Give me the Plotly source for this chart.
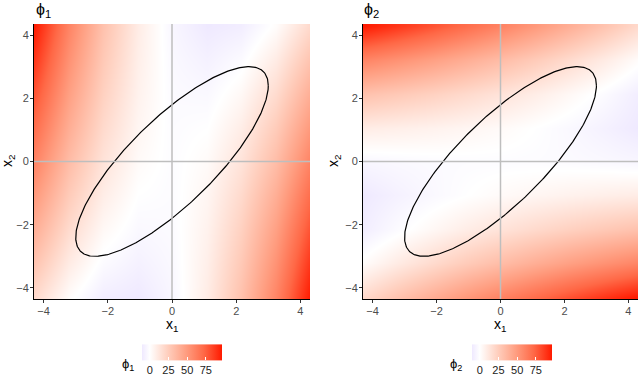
import numpy as np
import plotly.graph_objects as go

# ---------------- data ----------------
grid = [-4.3, -3.225, -2.15, -1.075, 0.0, 1.075, 2.15, 3.225, 4.3]

# rows: x2 ascending, columns: x1 ascending
phi1_values = [
    [18.9, 1.5, -8.4, -10.4, -4.3, 9.5, 30.8, 59.8, 96.6],
    [29.8, 10.0, -2.1, -6.6, -3.1, 8.2, 27.1, 53.7, 88.1],
    [40.3, 18.1, 3.6, -3.2, -2.2, 6.6, 23.1, 47.3, 79.2],
    [50.5, 25.9, 9.0, -0.2, -1.7, 4.7, 18.7, 40.5, 69.9],
    [60.4, 33.3, 14.0, 2.5, -1.5, 2.5, 14.0, 33.3, 60.4],
    [69.9, 40.5, 18.7, 4.7, -1.7, -0.2, 9.0, 25.9, 50.5],
    [79.2, 47.3, 23.1, 6.6, -2.2, -3.2, 3.6, 18.1, 40.3],
    [88.1, 53.7, 27.1, 8.2, -3.1, -6.6, -2.1, 10.0, 29.8],
    [96.6, 59.8, 30.8, 9.5, -4.3, -10.4, -8.4, 1.5, 18.9],
]

phi2_values = [
    [18.9, 29.8, 40.3, 50.5, 60.4, 69.9, 79.2, 88.1, 96.6],
    [1.5, 10.0, 18.1, 25.9, 33.3, 40.5, 47.3, 53.7, 59.8],
    [-8.4, -2.1, 3.6, 9.0, 14.0, 18.7, 23.1, 27.1, 30.8],
    [-10.4, -6.6, -3.2, -0.2, 2.5, 4.7, 6.6, 8.2, 9.5],
    [-4.3, -3.1, -2.2, -1.7, -1.5, -1.7, -2.2, -3.1, -4.3],
    [9.5, 8.2, 6.6, 4.7, 2.5, -0.2, -3.2, -6.6, -10.4],
    [30.8, 27.1, 23.1, 18.7, 14.0, 9.0, 3.6, -2.1, -8.4],
    [59.8, 53.7, 47.3, 40.5, 33.3, 25.9, 18.1, 10.0, 1.5],
    [96.6, 88.1, 79.2, 69.9, 60.4, 50.5, 40.3, 29.8, 18.9],
]

axis_ticks = [-4, -2, 0, 2, 4]
colorbar_ticks = [0, 25, 50, 75]

# ellipse (contour of a bivariate normal, correlation rho)
ellipse_rho = 0.8
ellipse_radius = 3.0

# ---------------- styling ----------------
FONT = "Liberation Sans, Arial, sans-serif"
W, H = 640, 379
PHI = "\u03d5"


def make_scale(z):
    zmin = min(min(r) for r in z)
    zmax = max(max(r) for r in z)
    p0 = -zmin / (zmax - zmin)
    reds = ["#FFFFFF", "#FFCFBE", "#FF9E81", "#FF6846", "#FF1A00"]
    scale = [[0.0, "#EFE9FF"]]
    for i, c in enumerate(reds):
        scale.append([p0 + (1 - p0) * i / 4, c])
    return scale


t = np.linspace(0, 2 * np.pi, 361)
ell_x = ellipse_radius * np.cos(t)
ell_y = ellipse_radius * (ellipse_rho * np.cos(t) + np.sqrt(1 - ellipse_rho ** 2) * np.sin(t))

panels = [
    dict(z=phi1_values, xa="x", ya="y", dom=[34 / W, 310 / W], cbx=182 / W, name="1"),
    dict(z=phi2_values, xa="x2", ya="y2", dom=[363 / W, 638 / W], cbx=512 / W, name="2"),
]
ydom = [1 - 299 / H, 1 - 24 / H]

fig = go.Figure()
for p in panels:
    fig.add_trace(go.Heatmap(
        x=grid, y=grid, z=p["z"], zsmooth="best",
        colorscale=make_scale(p["z"]),
        xaxis=p["xa"], yaxis=p["ya"], hoverinfo="skip",
        colorbar=dict(
            orientation="h", x=p["cbx"], xanchor="center",
            y=1 - 362 / H, yanchor="middle",
            len=80, lenmode="pixels", thickness=16, thicknessmode="pixels",
            tickvals=colorbar_ticks, ticks="inside", ticklen=3, tickcolor="white",
            tickfont=dict(family=FONT, size=11, color="#1A1A1A"),
            outlinewidth=0, xpad=0, ypad=0,
        ),
    ))
    fig.add_trace(go.Scatter(
        x=ell_x, y=ell_y, mode="lines", line=dict(color="black", width=1.2),
        xaxis=p["xa"], yaxis=p["ya"], showlegend=False, hoverinfo="skip",
    ))

axis_common = dict(
    tickvals=axis_ticks, ticks="outside", ticklen=3, tickcolor="#333333",
    tickfont=dict(family=FONT, size=11, color="#4D4D4D"),
    showgrid=False, zeroline=False, showline=True, linecolor="black",
    linewidth=1, mirror=False, ticklabelstandoff=-1,
)
fig.update_layout(
    width=W, height=H,
    margin=dict(l=0, r=0, t=0, b=0, autoexpand=False),
    paper_bgcolor="white", plot_bgcolor="white",
    showlegend=False,
    xaxis=dict(domain=panels[0]["dom"], range=[-4.3, 4.3], anchor="y", **axis_common),
    yaxis=dict(domain=ydom, range=[-4.35, 4.35], anchor="x", **axis_common),
    xaxis2=dict(domain=panels[1]["dom"], range=[-4.3, 4.3], anchor="y2", **axis_common),
    yaxis2=dict(domain=ydom, range=[-4.35, 4.35], anchor="x2", **axis_common),
)

shapes = []
for p in panels:
    shapes.append(dict(type="line", xref=p["xa"], yref=p["ya"] + " domain",
                       x0=0, x1=0, y0=0, y1=1, line=dict(color="#BEBEBE", width=1.5), layer="above"))
    shapes.append(dict(type="line", xref=p["xa"] + " domain", yref=p["ya"],
                       x0=0, x1=1, y0=0, y1=0, line=dict(color="#BEBEBE", width=1.5), layer="above"))
fig.update_layout(shapes=shapes)

ann = []
for p, lx, ttl_x, ylab_x, cbl_x in [
    (panels[0], 172 / W, 34 / W, 8 / W, 128 / W),
    (panels[1], 500 / W, 362 / W, 334 / W, 456 / W),
]:
    n = p["name"]
    ann.append(dict(text=f"{PHI}<sub>{n}</sub>", x=ttl_x, y=1 - 11 / H, xref="paper", yref="paper",
                    xanchor="left", yanchor="middle", showarrow=False,
                    font=dict(family=FONT, size=16, color="black")))
    ann.append(dict(text="x<sub>1</sub>", x=lx, y=1 - 325 / H, xref="paper", yref="paper",
                    xanchor="center", yanchor="middle", showarrow=False,
                    font=dict(family=FONT, size=14, color="black")))
    ann.append(dict(text="x<sub>2</sub>", x=ylab_x, y=1 - 161 / H, xref="paper", yref="paper",
                    xanchor="center", yanchor="middle", showarrow=False, textangle=-90,
                    font=dict(family=FONT, size=14, color="black")))
    ann.append(dict(text=f"{PHI}<sub>{n}</sub>", x=cbl_x, y=1 - 364 / H, xref="paper", yref="paper",
                    xanchor="center", yanchor="middle", showarrow=False,
                    font=dict(family=FONT, size=13, color="black")))
fig.update_layout(annotations=ann)

fig.write_html("out.html", post_script="document.body.style.margin='0';",
               config={"displayModeBar": False})
